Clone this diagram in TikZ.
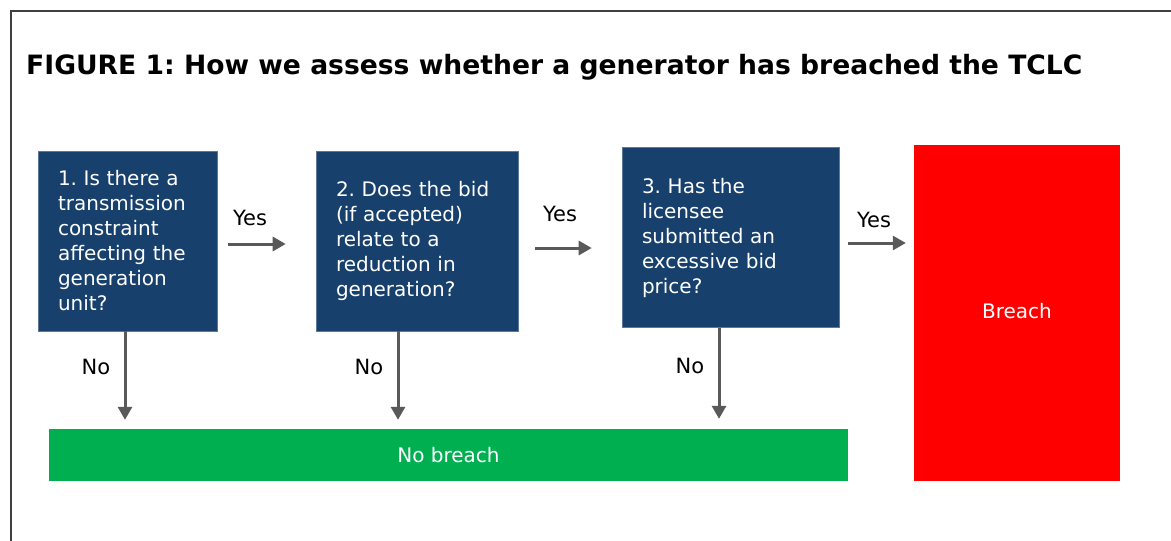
\documentclass[tikz,border=0pt]{standalone}
\usepackage{fontspec}
\setmainfont{DejaVu Sans}
\usetikzlibrary{shapes,arrows,arrows.meta,positioning}
\frenchspacing

\definecolor{qblue}{HTML}{17406D}
\definecolor{okgreen}{HTML}{00B050}
\definecolor{arrgray}{HTML}{595959}
\definecolor{framegray}{HTML}{404040}

\begin{document}
\begin{tikzpicture}[x=1pt, y=-1pt,
	question/.style={rectangle, fill=qblue, draw=qblue!70!white, line width=0.6pt, text=white, align=left, minimum height=180pt, inner xsep=20pt, inner ysep=0pt, font=\fontsize{20}{25}\selectfont},
	result/.style={rectangle, text=white, inner sep=0pt, font=\fontsize{20}{24}\selectfont},
	flow/.style={draw=arrgray, line width=3pt, -{Triangle[length=13pt, width=14pt]}},
	lbl/.style={draw=none, inner sep=0pt, font=\fontsize{21}{24}\selectfont}]
	% Page size and frame
	\useasboundingbox (0,0) rectangle (1171,541);
	\draw[framegray, line width=2pt] (11,541) -- (11,11) -- (1171,11);
	
	% Title
	\node[draw=none, anchor=base west, inner sep=0pt, font=\fontsize{26.6}{30}\selectfont\bfseries] (title) at (26,74) {FIGURE 1: How we assess whether a generator has breached the TCLC};
	
	% Questions
	\node[question, text width=139pt] (q1) at (127.5,241) {1. Is there a\\transmission\\constraint\\affecting the\\generation\\unit?};
	\node[question, text width=162pt] (q2) at (417,241) {2. Does the bid\\(if accepted)\\relate to a\\reduction in\\generation?};
	\node[question, text width=177pt] (q3) at (730.5,237.5) {3. Has the\\licensee\\submitted an\\excessive bid\\price?};
	
	% Outcomes
	\node[result, fill=red, minimum width=206pt, minimum height=336pt] (breach) at (1017,313) {\raisebox{4pt}{Breach}};
	\node[result, fill=okgreen, minimum width=799pt, minimum height=52pt] (nobreach) at (448.5,455) {\raisebox{1pt}{No breach}};
	
	% Yes arrows
	\draw[flow, shorten <=11pt, shorten >=30pt] ([yshift=-3pt]q1.east) -- ([yshift=-3pt]q1.east -| q2.west);
	\draw[flow, shorten <=17pt, shorten >=30pt] ([yshift=-7pt]q2.east) -- ([yshift=-7pt]q2.east -| q3.west);
	\draw[flow, shorten <=9pt, shorten >=8pt] ([yshift=-5.5pt]q3.east) -- ([yshift=-5.5pt]q3.east -| breach.west);
	\node[lbl] (yes1) at (250,218) {Yes};
	\node[lbl] (yes2) at (560,214) {Yes};
	\node[lbl] (yes3) at (874,220) {Yes};
	
	% No arrows
	\draw[flow, shorten >=9pt] ([xshift=-2.5pt]q1.south) -- ([xshift=-2.5pt]q1.south |- nobreach.north);
	\draw[flow, shorten >=9pt] ([xshift=-19pt]q2.south) -- ([xshift=-19pt]q2.south |- nobreach.north);
	\draw[flow, shorten >=10pt] ([xshift=-11.5pt]q3.south) -- ([xshift=-11.5pt]q3.south |- nobreach.north);
	\node[lbl] (no1) at (96,367) {No};
	\node[lbl] (no2) at (369,367) {No};
	\node[lbl] (no3) at (690,366) {No};
\end{tikzpicture}
\end{document}
